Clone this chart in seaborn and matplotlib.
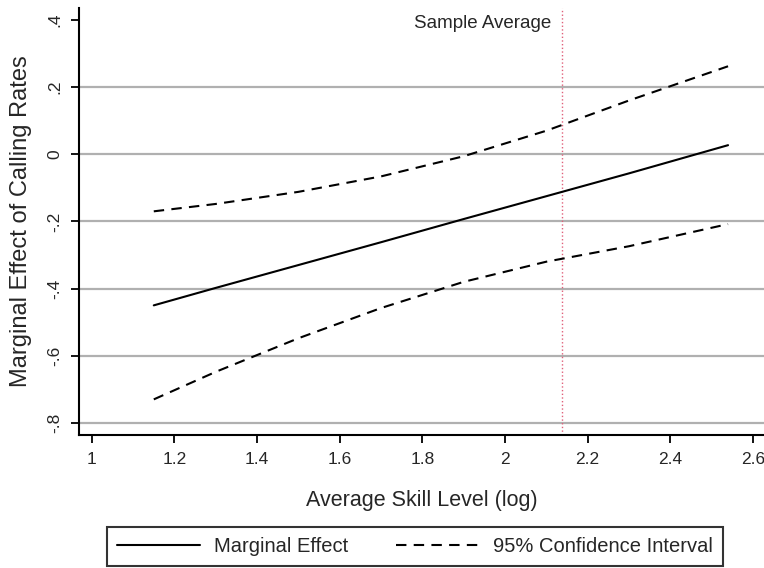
import pandas as pd
import seaborn as sns
import matplotlib.pyplot as plt

# values
skill = [1.15, 1.3, 1.5, 1.7, 1.9, 2.1, 2.3, 2.54]
marginal = [-0.45, -0.398, -0.330, -0.262, -0.193, -0.125, -0.057, 0.027]
ci_upper = [-0.17, -0.148, -0.112, -0.066, -0.006, 0.070, 0.160, 0.262]
ci_lower = [-0.73, -0.648, -0.548, -0.458, -0.380, -0.320, -0.274, -0.208]
sample_avg = 2.138
x_ticks = [1, 1.2, 1.4, 1.6, 1.8, 2, 2.2, 2.4, 2.6]
x_labels = ['1', '1.2', '1.4', '1.6', '1.8', '2', '2.2', '2.4', '2.6']
y_ticks = [-0.8, -0.6, -0.4, -0.2, 0, 0.2, 0.4]
y_labels = ['-.8', '-.6', '-.4', '-.2', '0', '.2', '.4']
y_grid = [-0.8, -0.6, -0.4, -0.2, 0, 0.2]

df = pd.DataFrame({'skill': skill, 'me': marginal, 'hi': ci_upper, 'lo': ci_lower})

sns.set_style('ticks')
plt.rcParams['font.family'] = ['Liberation Sans', 'DejaVu Sans']

fig = plt.figure(figsize=(7.64, 5.68), dpi=100)
ax = fig.add_axes([0.1034, 0.2342, 0.8966, 0.752])

for g in y_grid:
    ax.axhline(g, color='#b0b0b0', lw=1.6, zorder=0)
ax.axvline(sample_avg, color='#e0607a', lw=1.0, ls=':', zorder=1)

sns.lineplot(data=df, x='skill', y='me', color='black', lw=1.5, ax=ax, label='Marginal Effect')
sns.lineplot(data=df, x='skill', y='hi', color='black', lw=1.5, ax=ax,
             label='95% Confidence Interval')
sns.lineplot(data=df, x='skill', y='lo', color='black', lw=1.5, ax=ax)
for line in ax.lines[-2:]:
    line.set_linestyle((0, (5, 3.5)))

ax.text(sample_avg - 0.025, 0.39, 'Sample Average', ha='right', va='center', fontsize=13.5)

ax.set_xlim(0.969, 2.627)
ax.set_ylim(-0.836, 0.436)
ax.set_xticks(x_ticks)
ax.set_xticklabels(x_labels, fontsize=12.5)
ax.set_yticks(y_ticks)
ax.set_yticklabels(y_labels, fontsize=12.5, rotation=90, va='center')
ax.tick_params(direction='out', length=6, width=1.3, color='black', pad=6)
ax.set_xlabel('Average Skill Level (log)', fontsize=15.5, labelpad=17)
ax.set_ylabel('Marginal Effect of Calling Rates', fontsize=17, labelpad=11)
for side in ['top', 'right']:
    ax.spines[side].set_visible(False)
for side in ['left', 'bottom']:
    ax.spines[side].set_linewidth(1.5)
    ax.spines[side].set_color('black')

ax.legend_.remove()
handles, labels = ax.get_legend_handles_labels()
leg = fig.legend(handles, labels, loc='lower center', bbox_to_anchor=(0.543, 0.0),
                 ncol=2, fontsize=14.5, frameon=True, fancybox=False,
                 edgecolor='black', handlelength=4.1, borderaxespad=0.1, borderpad=0.5,
                 handletextpad=0.7, columnspacing=2.4)
leg.get_frame().set_linewidth(1.5)

fig.savefig('out.png', dpi=100)
